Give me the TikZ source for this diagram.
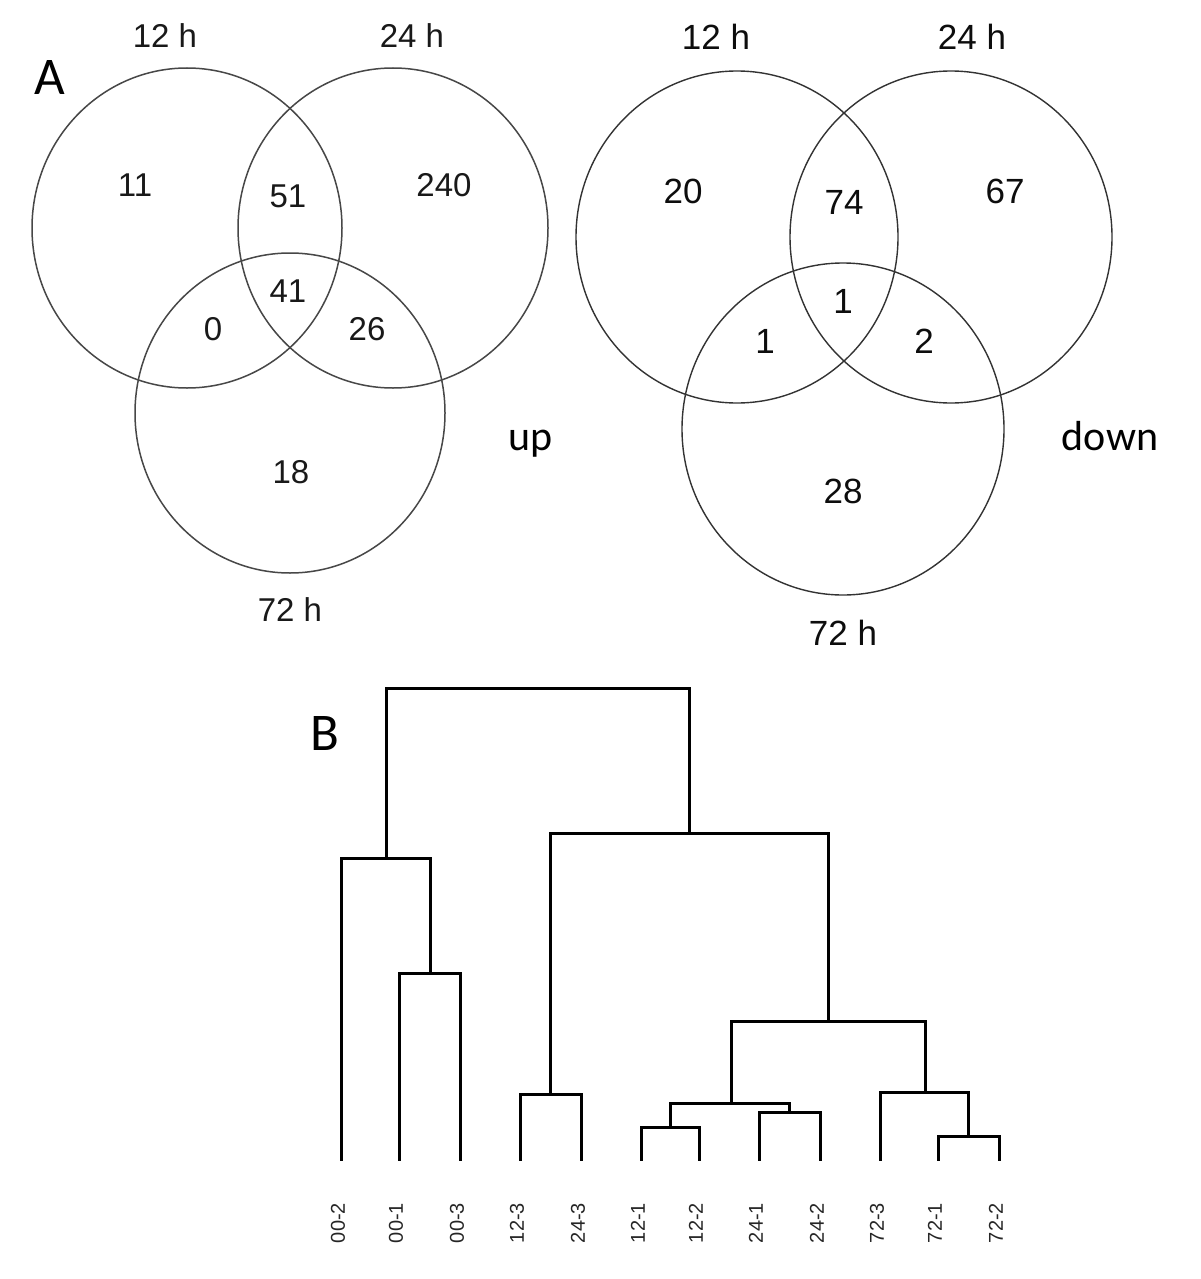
\documentclass[tikz,border=0pt]{standalone}
\usepackage{fontspec}
\setmainfont{Liberation Sans}
\newfontfamily\calib{Carlito}
\usetikzlibrary{shapes.geometric}
\begin{document}
\begin{tikzpicture}[x=1pt,y=-1pt,
  venn/.style={draw=black!72, line width=1.5pt, ellipse, inner sep=0pt, minimum width=310pt, minimum height=320pt},
  vennR/.style={draw=black!80, line width=1.4pt, ellipse, inner sep=0pt, minimum width=322pt, minimum height=332pt},
  num/.style={font=\fontsize{33}{36}\selectfont, text=black!90, inner sep=0pt},
  numR/.style={font=\fontsize{35}{38}\selectfont, text=black!95, inner sep=0pt},
  panel/.style={font=\calib\fontsize{53}{56}\selectfont, inner sep=0pt, anchor=base},
  side/.style={font=\calib\fontsize{42}{46}\selectfont, inner sep=0pt, anchor=base},
  branch/.style={draw=black, line width=3pt, line cap=rect},
  leaflab/.style={font=\fontsize{20}{22}\selectfont, text=black!85, inner sep=0pt, rotate=90}
]
\fill[white] (0,0) rectangle (1200,1279);
\useasboundingbox (0,0) rectangle (1200,1279);

% ---------- Panel A, up ----------
\node[venn] (u12) at (187,228) {};
\node[venn] (u24) at (393,228) {};
\node[venn] (u72) at (290,413) {};
\node[num] (ul12) at (165,36) {12 h};
\node[num] (ul24) at (412,36) {24 h};
\node[num] (ul72) at (290,610) {72 h};
\node[num] (un11) at (135,185) {11};
\node[num] (un51) at (288,196) {51};
\node[num] (un240) at (444,185) {240};
\node[num] (un41) at (288,291) {41};
\node[num] (un0) at (213,329) {0};
\node[num] (un26) at (367,329) {26};
\node[num] (un18) at (291,472) {18};
\node[side] (uup) at (531,450) {up};
\node[panel] (pA) at (50,95) {A};

% ---------- Panel A, down ----------
\node[vennR] (d12) at (737,237) {};
\node[vennR] (d24) at (951,237) {};
\node[vennR] (d72) at (843,429) {};
\node[numR] (dl12) at (716,37) {12 h};
\node[numR] (dl24) at (972,37) {24 h};
\node[numR] (dl72) at (843,633) {72 h};
\node[numR] (dn20) at (683,191) {20};
\node[numR] (dn74) at (844,202) {74};
\node[numR] (dn67) at (1005,191) {67};
\node[numR] (dn1c) at (843,301) {1};
\node[numR] (dn1l) at (765,341) {1};
\node[numR] (dn2) at (924,341) {2};
\node[numR] (dn28) at (843,491) {28};
\node[side] (ddown) at (1110,450) {down};

% ---------- Panel B, dendrogram ----------
\node[panel] (pB) at (325,750) {B};

\foreach \n/\x/\t in {1/341/00-2, 2/399/00-1, 3/460/00-3, 4/520/12-3, 5/581/24-3, 6/641/12-1,
                      7/699/12-2, 8/759/24-1, 9/820/24-2, 10/880/72-3, 11/938/72-1, 12/999/72-2} {
  \coordinate (l\n) at (\x,1159);
  \node[leaflab] (t\n) at (\x-3,1223) {\t};
}

\coordinate (mA) at (430,973);
\coordinate (mB) at (386,858);
\coordinate (mC) at (550,1094);
\coordinate (mD) at (670,1127);
\coordinate (mE) at (789,1112);
\coordinate (mF) at (731,1103);
\coordinate (mG) at (968,1136);
\coordinate (mH) at (925,1092);
\coordinate (mI) at (828,1021);
\coordinate (mJ) at (689,833);
\coordinate (mK) at (537,688);

\draw[branch] (l2) |- (mA) -| (l3);
\draw[branch] (l1) |- (mB) -| (mA);
\draw[branch] (l4) |- (mC) -| (l5);
\draw[branch] (l6) |- (mD) -| (l7);
\draw[branch] (l8) |- (mE) -| (l9);
\draw[branch] (mD) |- (mF) -| (mE);
\draw[branch] (l11) |- (mG) -| (l12);
\draw[branch] (l10) |- (mH) -| (mG);
\draw[branch] (mF) |- (mI) -| (mH);
\draw[branch] (mC) |- (mJ) -| (mI);
\draw[branch] (mB) |- (mK) -| (mJ);
\end{tikzpicture}
\end{document}
